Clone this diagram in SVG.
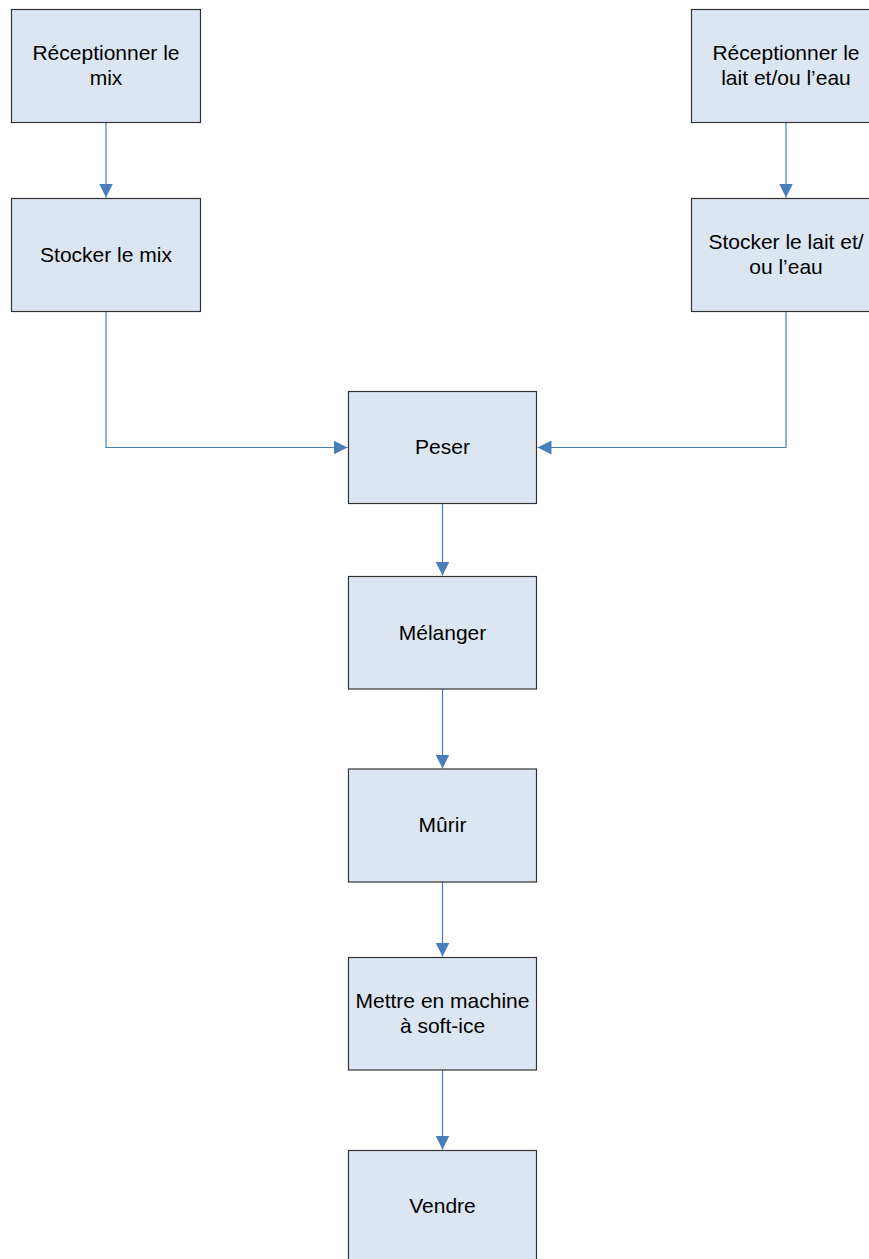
<svg xmlns="http://www.w3.org/2000/svg" width="869" height="1259" viewBox="0 0 869 1259">
<style>
.box{fill:#dce6f2;stroke:#333333;stroke-width:1.2}
.lbl{font-family:"Liberation Sans",Arial,sans-serif;font-size:21px;fill:#000;text-anchor:middle}
.con{fill:none;stroke:#4a7ebb;stroke-width:1.2}
</style>
<defs>
<marker id="arr" markerUnits="userSpaceOnUse" markerWidth="14" markerHeight="14" refX="14" refY="7" orient="auto" viewBox="0 0 14 14">
<path d="M0,0 L14,7 L0,14 z" fill="#4a7ebb"/>
</marker>
</defs>
<rect width="869" height="1259" fill="#ffffff"/>
<g id="connectors">
<path class="con" d="M106,122.5 V197.5" marker-end="url(#arr)"/>
<path class="con" d="M786,122.5 V197.5" marker-end="url(#arr)"/>
<path class="con" d="M106,311.5 V447.5 H347.5" marker-end="url(#arr)"/>
<path class="con" d="M786,311.5 V447.5 H537.5" marker-end="url(#arr)"/>
<path class="con" d="M442.5,503.5 V575.5" marker-end="url(#arr)"/>
<path class="con" d="M442.5,689 V768.5" marker-end="url(#arr)"/>
<path class="con" d="M442.5,882 V956.5" marker-end="url(#arr)"/>
<path class="con" d="M442.5,1070 V1149.5" marker-end="url(#arr)"/>
</g>
<g id="n1">
<rect class="box" x="11.5" y="9.5" width="189" height="113"/>
<text class="lbl" x="106" y="60">Réceptionner le</text>
<text class="lbl" x="106" y="85">mix</text>
</g>
<g id="n2">
<rect class="box" x="11.5" y="198.5" width="189" height="113"/>
<text class="lbl" x="106" y="262">Stocker le mix</text>
</g>
<g id="n3">
<rect class="box" x="691.5" y="9.5" width="189" height="113"/>
<text class="lbl" x="786" y="60">Réceptionner le</text>
<text class="lbl" x="786" y="85">lait et/ou l’eau</text>
</g>
<g id="n4">
<rect class="box" x="691.5" y="198.5" width="189" height="113"/>
<text class="lbl" x="786" y="249">Stocker le lait et/</text>
<text class="lbl" x="786" y="274">ou l’eau</text>
</g>
<g id="n5">
<rect class="box" x="348.5" y="391.5" width="188" height="112"/>
<text class="lbl" x="442.5" y="454">Peser</text>
</g>
<g id="n6">
<rect class="box" x="348.5" y="576.5" width="188" height="112.5"/>
<text class="lbl" x="442.5" y="639.5">Mélanger</text>
</g>
<g id="n7">
<rect class="box" x="348.5" y="769" width="188" height="113"/>
<text class="lbl" x="442.5" y="832">Mûrir</text>
</g>
<g id="n8">
<rect class="box" x="348.5" y="957.5" width="188" height="112.5"/>
<text class="lbl" x="442.5" y="1008">Mettre en machine</text>
<text class="lbl" x="442.5" y="1033">à soft-ice</text>
</g>
<g id="n9">
<rect class="box" x="348.5" y="1150.5" width="188" height="113"/>
<text class="lbl" x="442.5" y="1213">Vendre</text>
</g>
</svg>
